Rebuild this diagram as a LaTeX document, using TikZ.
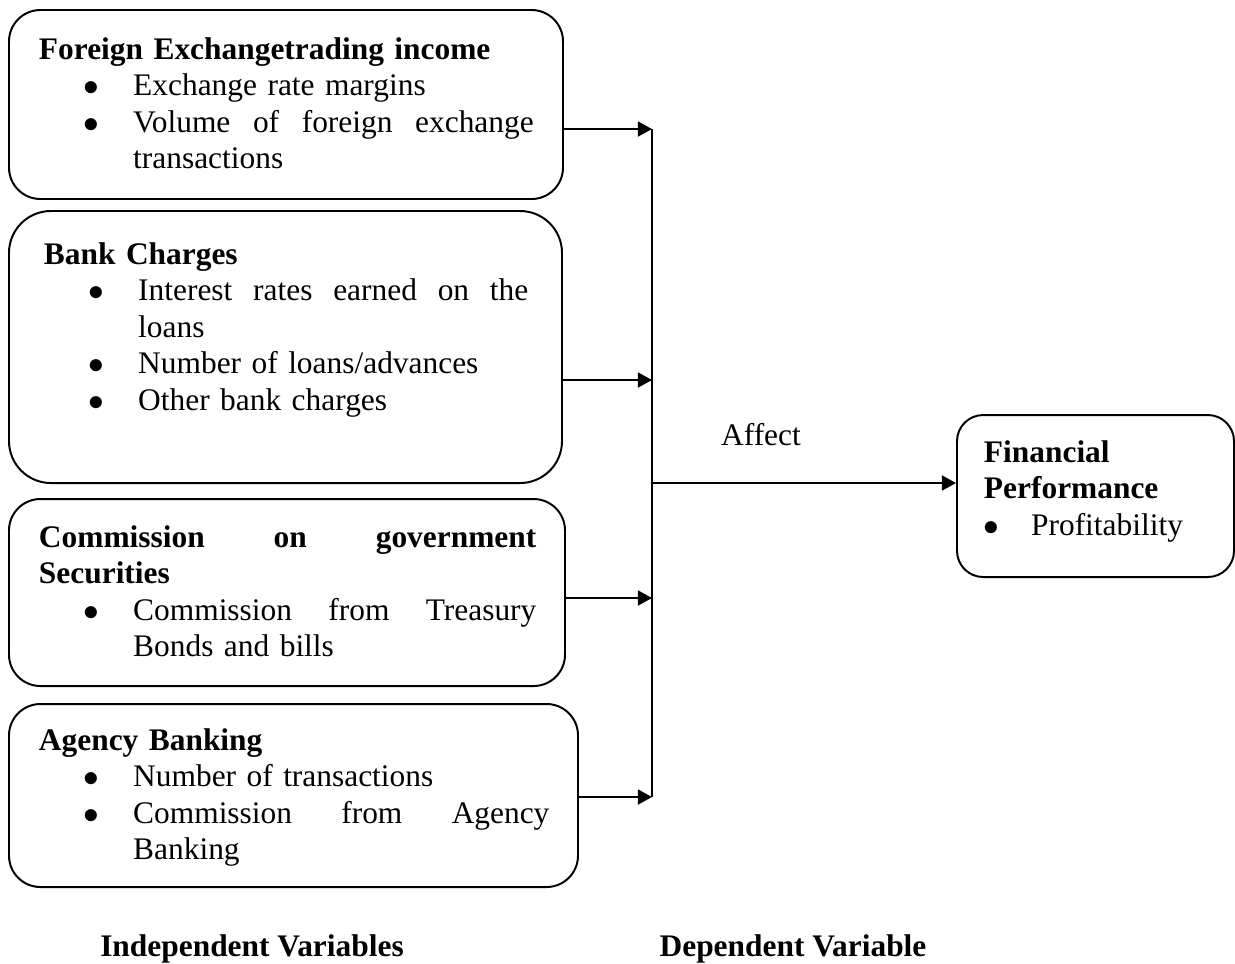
\documentclass[tikz,border=0pt]{standalone}
\usepackage{fontspec}
\setmainfont{Liberation Serif}
\usetikzlibrary{arrows.meta,fit}
\newcommand{\itm}[1]{\par\hangindent=36pt\hangafter=1\noindent\makebox[36pt][l]{\hspace{17pt}$\bullet$}#1\par}
\newcommand{\jline}[1]{\makebox[\dimexpr\linewidth-36pt\relax][s]{\spaceskip=.25em plus 1fil\relax#1}\newline}
\begin{document}
\begin{tikzpicture}[x=0.382pt,y=-0.382pt,line width=0.75pt,every node/.style={font=\fontsize{12}{14}\selectfont,inner sep=0pt},vbox/.style={draw,rounded corners=#1},txt/.style={anchor=base west,text width=#1},arr/.style={-{Triangle[length=5.4pt,width=5.7pt]}}]
\useasboundingbox (0,0) rectangle (1235,963);
\coordinate (j1) at (652,129);
\coordinate (j2) at (652,380);
\coordinate (j3) at (652,598);
\coordinate (j4) at (652,797);
\coordinate (j0) at (652,483);
\node[vbox=12pt,fit={(9,10) (563,199)}] (fx) {};
\node[vbox=16pt,fit={(9,211) (562,483)}] (bc) {};
\node[vbox=12pt,fit={(9,499) (565,686)}] (cg) {};
\node[vbox=12pt,fit={(9,704) (578,887)}] (ab) {};
\node[vbox=10pt,fit={(957,415) (1234,577)}] (fp) {};
\node[txt=189pt] (fxt) at (38,59) {\textbf{Foreign Exchangetrading income}
\itm{Exchange rate margins}
\itm{\jline{Volume of foreign exchange}transactions}};
\node[txt=185pt] (bct) at (43,264) {\textbf{Bank Charges}
\itm{\jline{Interest rates earned on the}loans}
\itm{Number of loans/advances}
\itm{Other bank charges}};
\node[txt=190pt] (cgt) at (38,547) {{\bfseries\makebox[\linewidth][s]{\spaceskip=.25em plus 1fil\relax Commission on government}\newline Securities}
\itm{\jline{Commission from Treasury}Bonds and bills}};
\node[txt=195pt] (abt) at (38,750) {\textbf{Agency Banking}
\itm{Number of transactions}
\itm{\jline{Commission from Agency}Banking}};
\node[txt=84pt] (fpt) at (983,462) {{\bfseries Financial\newline Performance}
\par\noindent\makebox[18pt][l]{$\bullet$}Profitability\par};
\node[anchor=base] (aff) at (761,445) {Affect};
\node[anchor=base,font=\fontsize{12}{14}\selectfont\bfseries] (iv) at (252,956) {Independent Variables};
\node[anchor=base,font=\fontsize{12}{14}\selectfont\bfseries] (dv) at (793,956) {Dependent Variable};
\draw[arr] (fx.east |- j1) -- (j1);
\draw[arr] (bc.east |- j2) -- (j2);
\draw[arr] (cg.east |- j3) -- (j3);
\draw[arr] (ab.east |- j4) -- (j4);
\draw (j1) -- (j4);
\draw[arr] (j0) -- (fp.west |- j0);
\end{tikzpicture}
\end{document}
